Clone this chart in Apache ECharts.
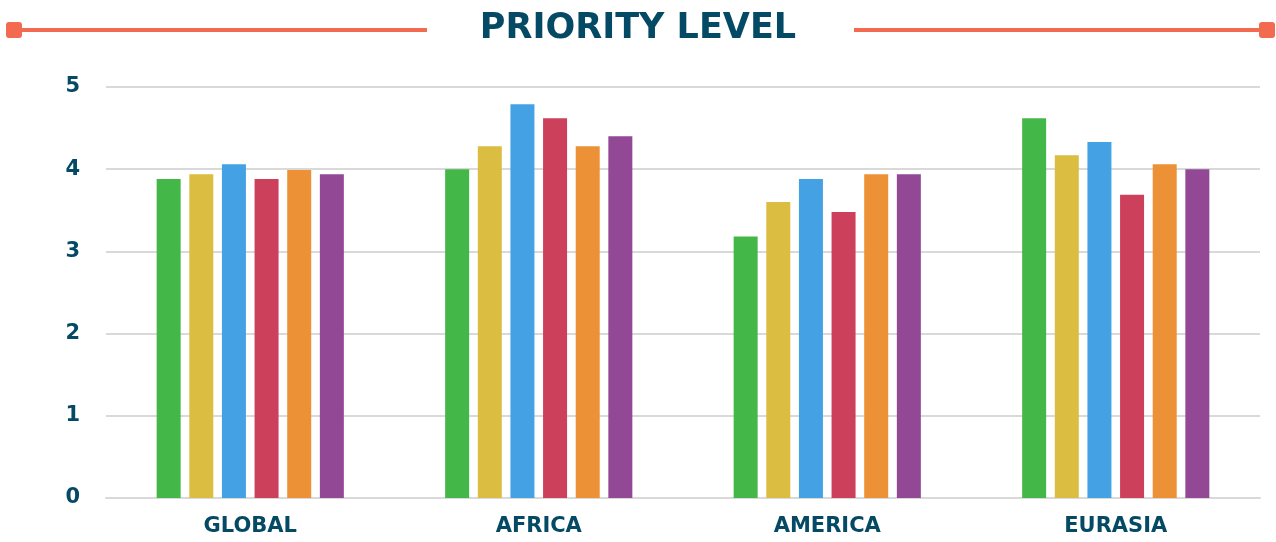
<!DOCTYPE html>
<html>
<head>
<meta charset="utf-8">
<script src="https://cdn.jsdelivr.net/npm/echarts@6/dist/echarts.min.js"></script>
<style>
  html, body { margin: 0; padding: 0; background: #ffffff; }
  #chart { width: 1276px; height: 542px; }
</style>
</head>
<body>
<div id="chart"></div>
<script>
// Regions on the x axis
const regions = ['GLOBAL', 'AFRICA', 'AMERICA', 'EURASIA'];

// Six priority series, one value per region
const series1 = [3.88, 4.00, 3.18, 4.62];
const series2 = [3.94, 4.28, 3.60, 4.17];
const series3 = [4.06, 4.79, 3.88, 4.33];
const series4 = [3.88, 4.62, 3.48, 3.69];
const series5 = [3.99, 4.28, 3.94, 4.06];
const series6 = [3.94, 4.40, 3.94, 4.00];

// Value axis ticks
const yMin = 0;
const yMax = 5;
const yStep = 1;

const allSeries = [series1, series2, series3, series4, series5, series6];
const colors = ['#44b749', '#dbbd42', '#44a2e4', '#cd405b', '#ec9135', '#934896'];

const ink = '#054a65';
const accent = '#f26a4f';
const fontFamily = '"DejaVu Sans", sans-serif';

const chart = echarts.init(document.getElementById('chart'), null, { renderer: 'canvas' });

chart.setOption({
  animation: false,
  backgroundColor: '#ffffff',
  title: {
    text: 'PRIORITY LEVEL',
    left: 'center',
    top: 6,
    textStyle: { color: ink, fontSize: 35, fontWeight: 700, fontFamily: fontFamily }
  },
  graphic: [
    { type: 'rect', shape: { x: 12, y: 28, width: 415, height: 4 }, style: { fill: accent } },
    { type: 'rect', shape: { x: 6, y: 22, width: 16, height: 16, r: 3 }, style: { fill: accent } },
    { type: 'rect', shape: { x: 854, y: 28, width: 412, height: 4 }, style: { fill: accent } },
    { type: 'rect', shape: { x: 1259, y: 22, width: 16, height: 16, r: 3 }, style: { fill: accent } }
  ],
  grid: { left: 106, right: 16, top: 87, bottom: 44, containLabel: false },
  xAxis: {
    type: 'category',
    data: regions,
    axisTick: { show: false },
    axisLine: { show: true, lineStyle: { color: '#d9d9d9', width: 2 } },
    axisLabel: { color: ink, fontSize: 21, fontWeight: 700, fontFamily: fontFamily, margin: 18 }
  },
  yAxis: {
    type: 'value',
    min: yMin,
    max: yMax,
    interval: yStep,
    axisLine: { show: false },
    axisTick: { show: false },
    splitLine: { lineStyle: { color: '#d9d9d9', width: 2 } },
    axisLabel: { color: ink, fontSize: 21, fontWeight: 700, fontFamily: fontFamily, margin: 26 }
  },
  series: allSeries.map((values, i) => ({
    type: 'bar',
    data: values,
    barWidth: 24,
    barGap: '36%',
    itemStyle: { color: colors[i] }
  }))
});
</script>
</body>
</html>
